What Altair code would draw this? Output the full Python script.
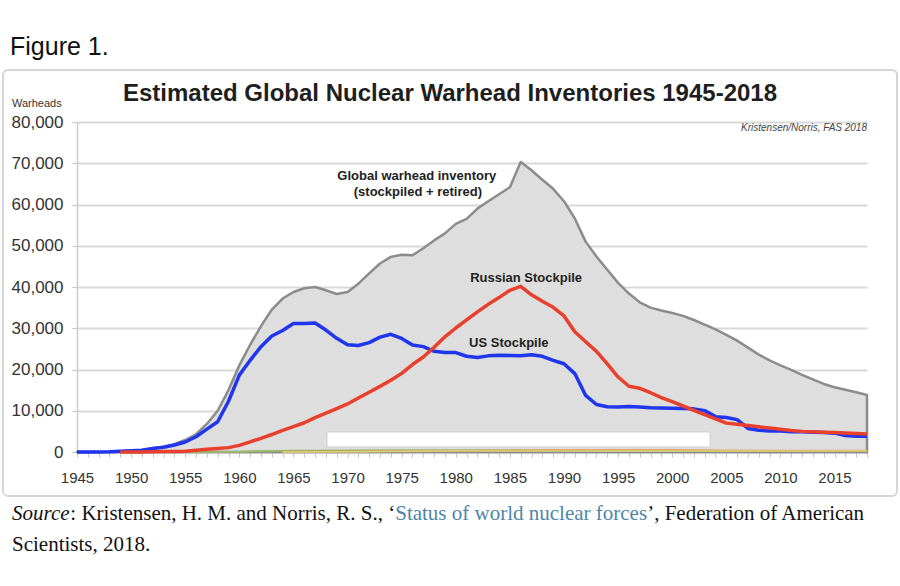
import altair as alt
import pandas as pd

years = list(range(1945, 2019))

global_inventory = [
    2, 9, 13, 50, 170, 304, 463, 891, 1300, 1900,
    2900, 4300, 6800, 10000, 15000, 21000, 26000, 30500, 34500, 37200,
    38800, 39700, 40000, 39200, 38300, 38800, 40800, 43300, 45700, 47300,
    47800, 47700, 49400, 51300, 53000, 55300, 56500, 59000, 60800, 62500,
    64200, 70300, 68300, 66000, 63800, 60800, 56600, 51000, 47400, 44200,
    41000, 38400, 36300, 35000, 34300, 33700, 33000, 32000, 30900, 29700,
    28400, 27000, 25300, 23600, 22200, 21000, 19900, 18700, 17600, 16500,
    15700, 15100, 14500, 13800,
]

us_stockpile = [
    2, 9, 13, 50, 170, 299, 438, 841, 1169, 1703,
    2422, 3692, 5543, 7345, 12298, 18638, 22229, 25540, 28133, 29463,
    31139, 31175, 31255, 29561, 27552, 26008, 25830, 26516, 27835, 28537,
    27519, 25914, 25542, 24418, 24138, 24104, 23208, 22886, 23305, 23459,
    23368, 23317, 23575, 23205, 22217, 21392, 19008, 13708, 11511, 10979,
    10904, 11011, 10903, 10732, 10685, 10577, 10526, 10457, 10027, 8570,
    8360, 7853, 5709, 5273, 5113, 5066, 4897, 4881, 4804, 4717,
    4571, 4018, 3822, 3800,
]

russian_stockpile = [
    0, 0, 0, 0, 1, 5, 25, 50, 120, 150,
    200, 426, 660, 869, 1060, 1605, 2471, 3322, 4238, 5221,
    6129, 7089, 8339, 9399, 10538, 11643, 13092, 14478, 15915, 17385,
    19055, 21205, 23044, 25393, 27935, 30062, 32049, 33952, 35804, 37431,
    39197, 40159, 38107, 36538, 35078, 32980, 29154, 26734, 24403, 21339,
    18179, 15942, 15442, 14368, 13188, 12188, 11152, 10114, 9076, 8038,
    7000, 6700, 6400, 6100, 5800, 5500, 5200, 5000, 4900, 4800,
    4700, 4600, 4500, 4350,
]

uk_years = [1953, 1960, 1962, 1965, 1970, 1975, 1990, 1995, 2005, 2018]
uk_vals = [1, 30, 205, 310, 375, 410, 410, 250, 230, 215]
france_years = [1964, 1965, 1970, 1975, 1980, 1985, 1990, 1995, 2000, 2005, 2010, 2018]
france_vals = [4, 32, 36, 188, 250, 360, 505, 500, 470, 350, 300, 300]
china_years = [1964, 1965, 1970, 1975, 1980, 1985, 1990, 1995, 2000, 2005, 2010, 2018]
china_vals = [1, 5, 75, 185, 280, 243, 232, 234, 232, 235, 240, 280]

ann_text = ["Global warhead inventory", "(stockpiled + retired)", "Russian Stockpile", "US Stockpile"]
ann_year = [1976.4, 1976.5, 1986.5, 1984.9]
ann_value = [66000, 62100, 41200, 25450]

box_year = [1968.1]
box_year2 = [2003.5]
box_value = [1200]
box_value2 = [4850]

y_ticks = [0, 10000, 20000, 30000, 40000, 50000, 60000, 70000, 80000]

FONT = "Liberation Sans"
SERIF = "Liberation Serif"

df_global = pd.DataFrame({"year": years, "value": global_inventory})
df_us = pd.DataFrame({"year": years, "value": us_stockpile})
df_ru = pd.DataFrame({"year": years, "value": russian_stockpile}).query("year >= 1949")
df_uk = pd.DataFrame({"year": uk_years, "value": uk_vals})
df_fr = pd.DataFrame({"year": france_years, "value": france_vals})
df_cn = pd.DataFrame({"year": china_years, "value": china_vals})
df_ann = pd.DataFrame({"year": ann_year, "value": ann_value, "text": ann_text})
df_box = pd.DataFrame({"year": box_year, "year2": box_year2, "value": box_value, "value2": box_value2})

x_axis = alt.Axis(
    values=years,
    labelExpr="datum.value % 5 == 0 ? datum.value : ''",
    title=None,
    grid=False,
    labelFont=FONT,
    labelFontSize=15,
    labelColor="#333333",
    labelPadding=13,
    labelFlush=False,
    labelOverlap=False,
    tickSize=5,
    tickColor="#c4c4c4",
    tickWidth=1,
    domainColor="#c8c8c8",
    domainWidth=2,
)
y_axis = alt.Axis(
    values=y_ticks,
    format=",.0f",
    title=None,
    grid=True,
    gridColor="#d9d9d9",
    gridWidth=2,
    labelFont=FONT,
    labelFontSize=17,
    labelColor="#333333",
    labelPadding=9,
    tickSize=5,
    tickColor="#c4c4c4",
    domainColor="#cccccc",
    domainWidth=1.5,
)
x_scale = alt.Scale(domain=[1945, 2018], nice=False, zero=False)
y_scale = alt.Scale(domain=[0, 80000], nice=False)

x_enc = alt.X("year:Q", scale=x_scale, axis=x_axis)
y_enc = alt.Y("value:Q", scale=y_scale, axis=y_axis)

one = alt.Data(values=[{}])


def label(text, x, y, size, **kw):
    return alt.Chart(one).mark_text(fontSize=size, **kw).encode(
        x=alt.value(x), y=alt.value(y), text=alt.value(text)
    )


frame = alt.Chart(one).mark_rect(
    fillOpacity=0, stroke="#d6d6d6", strokeWidth=2, cornerRadius=5
).encode(x=alt.value(-74), x2=alt.value(820), y=alt.value(-52), y2=alt.value(374))

area = alt.Chart(df_global).mark_area(
    color="#dedede", stroke="#8c8c8c", strokeWidth=2.5, strokeJoin="round"
).encode(x=x_enc, y=y_enc)

box = alt.Chart(df_box).mark_rect(
    fill="#ffffff", stroke="#cfcfcf", strokeWidth=1
).encode(x=x_enc, x2="year2:Q", y=y_enc, y2="value2:Q")

uk = alt.Chart(df_uk).mark_line(color="#9bb56a", strokeWidth=2).encode(x=x_enc, y=y_enc)
fr = alt.Chart(df_fr).mark_line(color="#e3a268", strokeWidth=2).encode(x=x_enc, y=y_enc)
cn = alt.Chart(df_cn).mark_line(color="#d8cf7a", strokeWidth=1.5).encode(x=x_enc, y=y_enc)

us = alt.Chart(df_us).mark_line(color="#1f35ee", strokeWidth=3.5, strokeJoin="round").encode(x=x_enc, y=y_enc)
ru = alt.Chart(df_ru).mark_line(color="#e8402c", strokeWidth=3.5, strokeJoin="round").encode(x=x_enc, y=y_enc)

ann = alt.Chart(df_ann).mark_text(
    font=FONT, fontSize=13, fontWeight="bold", color="#222222", align="center", baseline="alphabetic"
).encode(x=x_enc, y=y_enc, text="text:N")

texts = [
    label("Figure 1.", -67, -67, 25, font=FONT, color="#111111", align="left", baseline="alphabetic"),
    label("Estimated Global Nuclear Warhead Inventories 1945-2018", 373, -21, 24, font=FONT,
          fontWeight="bold", color="#1e1e1e", align="center", baseline="alphabetic"),
    label("Warheads", -65, -15, 11, font=FONT, color="#333333", align="left", baseline="alphabetic"),
    label("Kristensen/Norris, FAS 2018", 790, 9, 10, font=FONT, fontStyle="italic",
          color="#444444", align="right", baseline="alphabetic"),
    label("Source", -65, 398, 21, font=SERIF, fontStyle="italic", color="#111111",
          align="left", baseline="alphabetic"),
    label(": Kristensen, H. M. and Norris, R. S., \u2018", -6.7, 398, 21, font=SERIF,
          color="#111111", align="left", baseline="alphabetic"),
    label("Status of world nuclear forces", 318.2, 398, 21, font=SERIF, color="#4d86a8",
          align="left", baseline="alphabetic"),
    label("\u2019, Federation of American", 570.2, 398, 21, font=SERIF, color="#111111",
          align="left", baseline="alphabetic"),
    label("Scientists, 2018.", -65, 429, 21, font=SERIF, color="#111111",
          align="left", baseline="alphabetic"),
]

chart = alt.layer(
    frame, area, box, uk, fr, cn, us, ru, ann, *texts
).properties(
    width=790,
    height=330,
    autosize=alt.AutoSizeParams(type="none"),
    padding={"left": 77, "top": 122, "right": 33, "bottom": 134},
    background="#ffffff",
).configure_view(strokeWidth=0)

chart.save("out.html", embed_options={"renderer": "svg", "actions": False})
